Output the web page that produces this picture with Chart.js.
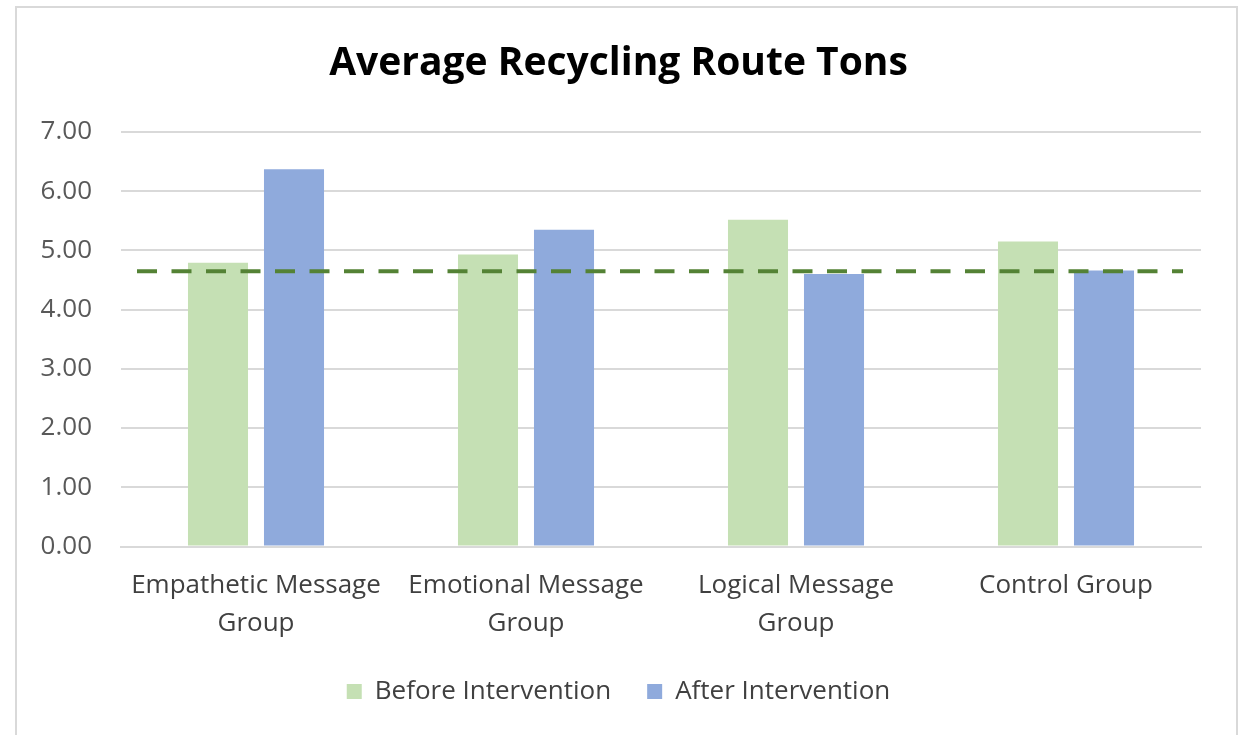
<!DOCTYPE html>
<html>
<head>
<meta charset="utf-8">
<title>Average Recycling Route Tons</title>
<script src="https://cdn.jsdelivr.net/npm/chart.js@4"></script>
<style>
    html, body { margin: 0; padding: 0; background: #ffffff; }
    #chartBox { width: 1241px; height: 735px; }
</style>
</head>
<body>
<div id="chartBox"><canvas id="tonsChart" width="1241" height="735"></canvas></div>
<script>
// Dados do grafico
const categorias = [
    ['Empathetic Message', 'Group'],
    ['Emotional Message', 'Group'],
    ['Logical Message', 'Group'],
    ['Control Group']
];
const antesIntervencao = [4.79, 4.93, 5.52, 5.15];
const depoisIntervencao = [6.37, 5.35, 4.60, 4.66];
const linhaReferencia = 4.65;
const ticksY = [0, 1, 2, 3, 4, 5, 6, 7];

const fonte = '"Open Sans", "DejaVu Sans", sans-serif';

// Moldura cinza em volta do grafico
const molduraPlugin = {
    id: 'moldura',
    beforeDraw(chart) {
        const ctx = chart.ctx;
        ctx.save();
        ctx.fillStyle = '#ffffff';
        ctx.fillRect(0, 0, chart.width, chart.height);
        ctx.strokeStyle = '#d9d9d9';
        ctx.lineWidth = 2;
        ctx.strokeRect(16, 7, 1221, 800);
        ctx.restore();
    }
};

// Linha tracejada de referencia
const linhaPlugin = {
    id: 'linhaReferencia',
    afterDatasetsDraw(chart) {
        const { ctx, chartArea, scales } = chart;
        const y = scales.y.getPixelForValue(linhaReferencia);
        ctx.save();
        ctx.strokeStyle = '#548235';
        ctx.lineWidth = 4;
        ctx.setLineDash([20, 14.5]);
        ctx.beginPath();
        ctx.moveTo(chartArea.left + 16, y);
        ctx.lineTo(chartArea.right - 18, y);
        ctx.stroke();
        ctx.restore();
    }
};

const ctx = document.getElementById('tonsChart');

new Chart(ctx, {
    type: 'bar',
    data: {
        labels: categorias,
        datasets: [
            {
                label: 'Before Intervention',
                data: antesIntervencao,
                backgroundColor: '#c5e0b4',
                borderWidth: 0,
                categoryPercentage: 0.563,
                barPercentage: 0.79
            },
            {
                label: 'After Intervention',
                data: depoisIntervencao,
                backgroundColor: '#8faadc',
                borderWidth: 0,
                categoryPercentage: 0.563,
                barPercentage: 0.79
            }
        ]
    },
    options: {
        responsive: false,
        animation: false,
        layout: {
            padding: { top: 0, left: 36, right: 40, bottom: 20.5 }
        },
        plugins: {
            title: {
                display: true,
                text: 'Average Recycling Route Tons',
                color: '#000000',
                font: { family: fonte, size: 39, weight: 'bold', lineHeight: 1.2 },
                padding: { top: 40, bottom: 45.2 }
            },
            legend: {
                position: 'bottom',
                labels: {
                    boxWidth: 15,
                    boxHeight: 15,
                    padding: 36,
                    color: '#404040',
                    font: { family: fonte, size: 26 }
                }
            },
            tooltip: { enabled: false }
        },
        scales: {
            x: {
                grid: { display: false },
                border: { display: true, color: '#d9d9d9', width: 2 },
                ticks: {
                    color: '#404040',
                    padding: 12,
                    maxRotation: 0,
                    autoSkip: false,
                    font: { family: fonte, size: 26, lineHeight: '38px' }
                },
                afterFit: function(scale) {
                    scale.height = 96;
                }
            },
            y: {
                min: 0,
                max: 7,
                grid: { color: '#d9d9d9', lineWidth: 2, drawTicks: false },
                border: { display: false },
                afterBuildTicks: function(scale) {
                    scale.ticks = ticksY.map(v => ({ value: v }));
                },
                ticks: {
                    color: '#595959',
                    padding: 29,
                    font: { family: fonte, size: 26 },
                    callback: function(value) {
                        return Number(value).toFixed(2);
                    }
                },
                afterFit: function(scale) {
                    scale.width = 85;
                }
            }
        }
    },
    plugins: [molduraPlugin, linhaPlugin]
});
</script>
</body>
</html>
